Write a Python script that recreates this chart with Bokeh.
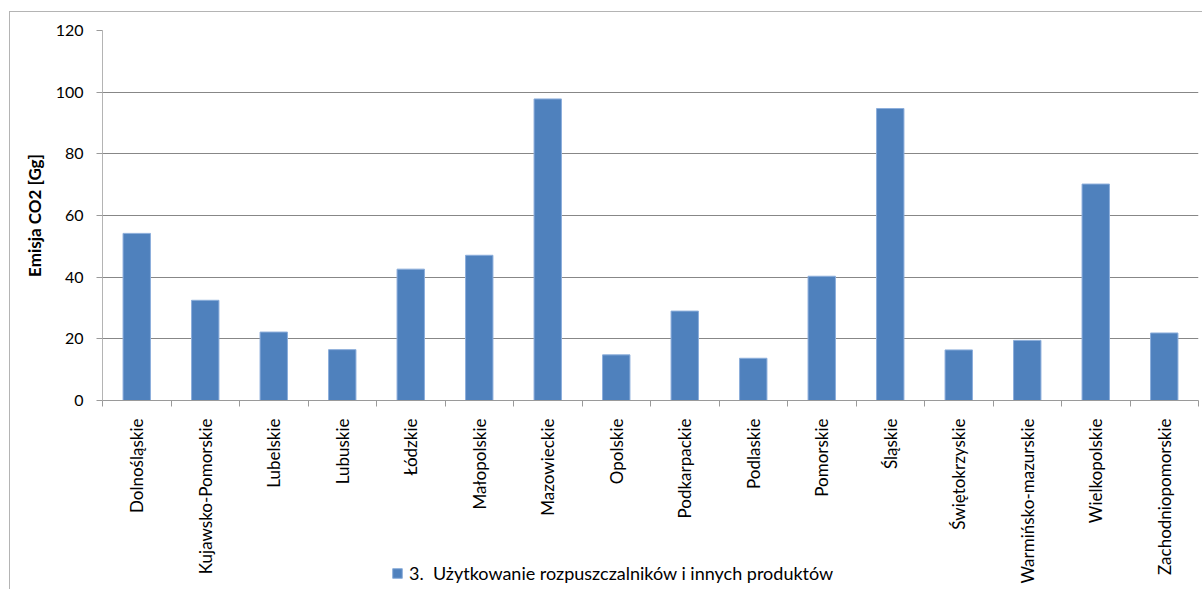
import numpy as np
from bokeh.plotting import figure
from bokeh.layouts import column
from bokeh.models import Range1d, FixedTicker, Legend, LegendItem
from bokeh.embed import file_html
from bokeh.resources import INLINE

categories = ["Dolnośląskie", "Kujawsko-Pomorskie", "Lubelskie", "Lubuskie", "Łódzkie",
              "Małopolskie", "Mazowieckie", "Opolskie", "Podkarpackie", "Podlaskie",
              "Pomorskie", "Śląskie", "Świętokrzyskie", "Warmińsko-mazurskie",
              "Wielkopolskie", "Zachodniopomorskie"]
values = [54.2, 32.5, 22.2, 16.5, 42.6, 47.1, 97.8, 14.8, 29.0, 13.7,
          40.3, 94.7, 16.4, 19.5, 70.2, 21.9]
y_ticks = [0, 20, 40, 60, 80, 100, 120]
series_name = "3.  Użytkowanie rozpuszczalników i innych produktów"
y_title = "Emisja CO2 [Gg]"

FONT = "Lato"
BAR = "#4F81BD"
BAR_EDGE = "#8CAEDB"
n = len(categories)
centers = [float(i) + 0.5 for i in range(n)]
bounds = [float(i) for i in range(n + 1)]

p = figure(width=1193, height=578, output_backend="svg", toolbar_location=None,
           x_range=Range1d(0, n), y_range=Range1d(0, 120),
           min_border_left=92, min_border_right=5, min_border_top=18, min_border_bottom=190,
           margin=(11, 0, 0, 9),
           styles={"border-left": "1px solid #b4b4b4", "border-top": "1px solid #b4b4b4"})
p.outline_line_color = None
p.background_fill_color = "white"
p.border_fill_color = "white"

r = p.vbar(x=centers, top=values, width=0.4, bottom=0,
           fill_color=BAR, line_color=BAR_EDGE, line_width=1)

# y axis
p.yaxis.ticker = FixedTicker(ticks=y_ticks)
p.yaxis.major_tick_out = 6
p.yaxis.major_tick_in = 0
p.yaxis.minor_tick_line_color = None
p.yaxis.axis_line_color = "#b4b4b4"
p.yaxis.major_tick_line_color = "#9a9a9a"
p.yaxis.major_label_standoff = 13
p.yaxis.major_label_text_font = FONT
p.yaxis.major_label_text_font_size = "16px"
p.yaxis.major_label_text_color = "black"
p.yaxis.axis_label = y_title
p.yaxis.axis_label_text_font = FONT
p.yaxis.axis_label_text_font_size = "17px"
p.yaxis.axis_label_text_font_style = "bold"
p.yaxis.axis_label_text_color = "black"
p.yaxis.axis_label_standoff = 8

# x axis
p.xaxis.ticker = FixedTicker(ticks=centers, minor_ticks=bounds)
p.xaxis.major_label_overrides = {c: name for c, name in zip(centers, categories)}
p.xaxis.major_label_orientation = np.pi / 2
p.xaxis.major_tick_line_color = None
p.xaxis.major_tick_out = 0
p.xaxis.minor_tick_out = 6
p.xaxis.minor_tick_in = 0
p.xaxis.minor_tick_line_color = "#9a9a9a"
p.xaxis.axis_line_color = "#9a9a9a"
p.xaxis.major_label_standoff = 12
p.xaxis.major_label_text_font = FONT
p.xaxis.major_label_text_font_size = "17px"
p.xaxis.major_label_text_color = "black"

p.xgrid.grid_line_color = None
p.ygrid.ticker = FixedTicker(ticks=y_ticks)
p.ygrid.grid_line_color = "#878787"
p.ygrid.grid_line_width = 1

# legend, drawn in a small transparent figure laid over the bottom of the chart
# (its plot frame is aligned with the main frame's left border by the column layout)
lp = figure(width=560, height=22, output_backend="svg", toolbar_location=None,
            x_range=Range1d(0, n), y_range=Range1d(500, 501),
            x_axis_location=None, y_axis_location=None,
            min_border_left=0, min_border_right=0, min_border_top=0, min_border_bottom=0,
            margin=(-27, 0, 0, 299))
lp.outline_line_color = None
lp.background_fill_alpha = 0
lp.border_fill_alpha = 0
lp.grid.visible = False
# same series (outside this small frame's view); only its legend swatch is shown
lr = lp.vbar(x=centers, top=values, width=0.4, bottom=0,
             fill_color=BAR, line_color=BAR_EDGE, line_width=1)
legend = Legend(items=[LegendItem(label=series_name, renderers=[lr])],
                location="top_left", padding=0, spacing=0, margin=0,
                glyph_width=12, glyph_height=12, label_height=22, label_standoff=6,
                border_line_color=None, background_fill_alpha=0,
                label_text_font=FONT, label_text_font_size="18px", label_text_color="black")
lp.add_layout(legend, "center")

layout = column(p, lp)
open("out.html", "w").write(file_html(layout, INLINE))
